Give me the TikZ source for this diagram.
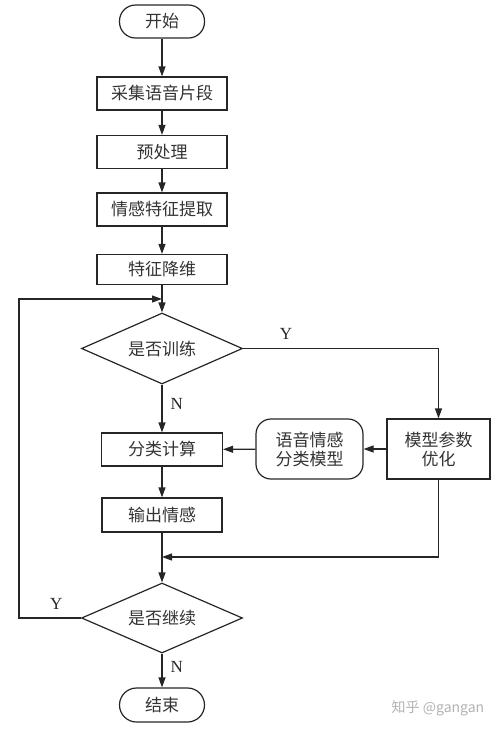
\documentclass[tikz,border=0pt]{standalone}
\usepackage{fontspec}
\setmainfont{Liberation Serif}
\newfontfamily\cjk{Noto Sans CJK SC}
\usetikzlibrary{shapes.geometric,arrows.meta}
\begin{document}
\begin{tikzpicture}[x=1pt,y=-1pt,
  every node/.style={font=\cjk\fontsize{17}{19}\selectfont, text=black!80, inner sep=0pt},
  line/.style={draw=black!85, line width=1.2pt},
  arr/.style={line, -{Triangle[length=10pt,width=7pt]}},
  term/.style={line, rectangle, rounded corners=16pt, minimum width=85pt, minimum height=33pt},
  proc/.style={line, rectangle, minimum width=130pt, minimum height=33pt},
  dec/.style={line, diamond, aspect=2.27, minimum width=161pt, minimum height=71pt},
  lbl/.style={font=\fontsize{17}{19}\selectfont, text=black!85}
]
\useasboundingbox (0,0) rectangle (500,732);
\node[term] (start) at (162,21.5) {开始};
\node[proc] (b1) at (162,93.5) {采集语音片段};
\node[proc] (b2) at (162,152) {预处理};
\node[proc] (b3) at (162,209.5) {情感特征提取};
\node[proc, minimum height=30pt] (b4) at (162,269.5) {特征降维};
\coordinate (j1) at (162,299);
\node[dec] (d1) at (162,348.5) {是否训练};
\node[proc, minimum width=121pt] (calc) at (162,449.5) {分类计算};
\node[line, rectangle, rounded corners=15pt, minimum width=107pt, minimum height=60pt, align=center] (model) at (309.5,449) {语音情感\\分类模型};
\node[proc, minimum width=103pt, minimum height=60pt, align=center] (opt) at (438.5,449) {模型参数\\优化};
\node[proc, minimum width=120pt, minimum height=34pt] (out) at (162,515) {输出情感};
\coordinate (j2) at (162,557);
\node[dec, minimum height=70pt] (d2) at (162,618) {是否继续};
\node[term, minimum height=34pt, rounded corners=17pt] (end) at (162,705) {结束};

\draw[arr] (start) -- (b1);
\draw[arr] (b1) -- (b2);
\draw[arr] (b2) -- (b3);
\draw[arr] (b3) -- (b4);
\draw[arr] (b4) -- (d1.north);
\draw[arr] (d1.south) -- node[lbl, right=8pt, pos=0.4] {N} (calc);
\draw[arr] (d1.east) -- (opt.north |- d1.east) node[lbl, pos=0.22, above=8pt] {Y} -- (opt.north);
\draw[arr] (opt) -- (model);
\draw[arr] (model) -- (calc);
\draw[arr] (calc) -- (out);
\draw[arr] (out) -- (d2.north);
\draw[arr] (opt.south) -- (opt.south |- j2) -- (j2);
\draw[arr] (d2.west) -- node[lbl, above=8pt, pos=0.4] {Y} (19,618) -- (19,299) -- (j1);
\draw[arr] (d2.south) -- node[lbl, right=8pt, pos=0.4] {N} (end);
\node[font=\cjk\fontsize{14}{16}\selectfont, text=black!30] (wm) at (438,708) {知乎 @gangan};
\end{tikzpicture}
\end{document}
